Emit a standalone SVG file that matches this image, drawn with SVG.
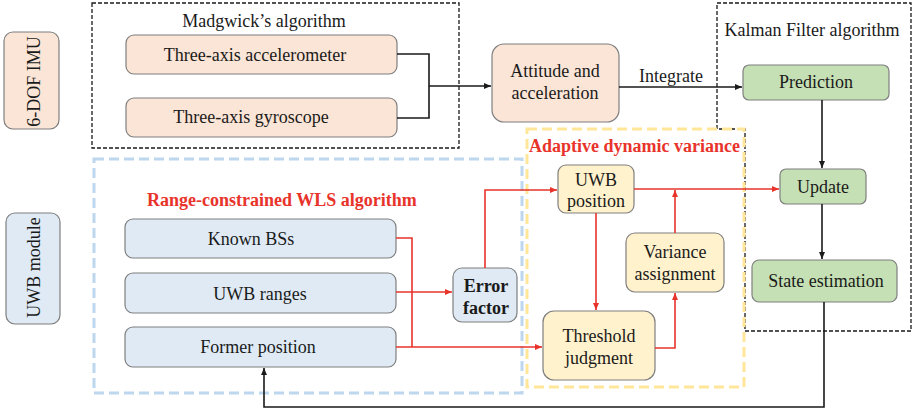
<svg xmlns="http://www.w3.org/2000/svg" width="912" height="413" viewBox="0 0 912 413" font-family="'Liberation Serif', 'Times New Roman', 'DejaVu Serif', serif">
<defs>
<style>
text{font-family:'Liberation Serif','Times New Roman','DejaVu Serif',serif;font-size:18px;fill:#1a1a1a;text-anchor:middle}
.b{font-weight:bold}
.red{fill:#e8332b;font-weight:bold;text-anchor:start}
.box{stroke:#7f7f7f;stroke-width:1.2}
.peach{fill:#fbe5d6}
.blue{fill:#dfeaf5}
.green{fill:#c5e0b4}
.yel{fill:#fff2cc}
.k{fill:none;stroke:#1a1a1a;stroke-width:1.6}
.r{fill:none;stroke:#e8332b;stroke-width:1.6}
.kd{fill:none;stroke:#1a1a1a;stroke-width:1.3;stroke-dasharray:4 2}
</style>
<marker id="ak" markerUnits="userSpaceOnUse" markerWidth="8" markerHeight="8" refX="7" refY="4" orient="auto"><path d="M0,1 L7,4 L0,7 Z" fill="#1a1a1a"/></marker>
<marker id="ar" markerUnits="userSpaceOnUse" markerWidth="8" markerHeight="8" refX="7" refY="4" orient="auto"><path d="M0,1 L7,4 L0,7 Z" fill="#e8332b"/></marker>
</defs>
<rect width="912" height="413" fill="#fff"/>

<g id="groups">
<rect x="92" y="3" width="367" height="145" class="kd"/>
<path d="M745,331 H911 V3 H717 V129 H745 Z" class="kd"/>
<rect x="94" y="159" width="428" height="234" fill="none" stroke="#bdd7ee" stroke-width="3" stroke-dasharray="10 5"/>
<rect x="527" y="129" width="217" height="258" fill="none" stroke="#ffe699" stroke-width="3" stroke-dasharray="10 5"/>
<text x="264" y="27">Madgwick’s algorithm</text>
<text x="812" y="36">Kalman Filter algorithm</text>
<text class="red" x="529" y="152">Adaptive dynamic variance</text>
<text class="red" x="147" y="206">Range-constrained WLS algorithm</text>
</g>

<g id="imu">
<rect x="4" y="32" width="55" height="97" rx="9" class="box peach"/>
<text transform="translate(39.5,81.5) rotate(-90)">6-DOF IMU</text>
</g>
<g id="uwbmodule">
<rect x="6" y="213" width="54" height="111" rx="9" class="box blue"/>
<text transform="translate(40,267.5) rotate(-90)">UWB module</text>
</g>

<g id="accelerometer">
<rect x="126" y="35" width="271" height="39" rx="8" class="box peach"/>
<text x="255" y="61">Three-axis accelerometer</text>
</g>
<g id="gyroscope">
<rect x="126" y="98" width="271" height="39" rx="8" class="box peach"/>
<text x="251" y="123">Three-axis gyroscope</text>
</g>
<g id="attitude">
<rect x="492" y="44" width="127" height="78" rx="12" class="box peach"/>
<text x="555" y="77">Attitude and</text>
<text x="555" y="99">acceleration</text>
</g>

<g id="prediction">
<rect x="743" y="65" width="146" height="35" rx="6" class="box green"/>
<text x="816" y="88">Prediction</text>
</g>
<g id="update">
<rect x="780" y="169" width="86" height="35" rx="6" class="box green"/>
<text x="823" y="193">Update</text>
</g>
<g id="state">
<rect x="752" y="260" width="145" height="42" rx="7" class="box green"/>
<text x="826" y="287">State estimation</text>
</g>

<g id="knownbs">
<rect x="125" y="219" width="271" height="39" rx="8" class="box blue"/>
<text x="251" y="245">Known BSs</text>
</g>
<g id="ranges">
<rect x="125" y="273" width="271" height="40" rx="8" class="box blue"/>
<text x="260" y="300">UWB ranges</text>
</g>
<g id="former">
<rect x="125" y="327" width="271" height="40" rx="8" class="box blue"/>
<text x="258" y="353">Former position</text>
</g>
<g id="error">
<rect x="453" y="268" width="64" height="54" rx="9" class="box blue"/>
<text class="b" x="486" y="292">Error</text>
<text class="b" x="486" y="314">factor</text>
</g>

<g id="uwbpos">
<rect x="558" y="165" width="76" height="48" rx="8" class="box yel"/>
<text x="596" y="186">UWB</text>
<text x="596" y="207">position</text>
</g>
<g id="variance">
<rect x="626" y="233" width="98" height="59" rx="9" class="box yel"/>
<text x="675" y="258">Variance</text>
<text x="675" y="280">assignment</text>
</g>
<g id="threshold">
<rect x="543" y="311" width="112" height="69" rx="11" class="box yel"/>
<text x="599" y="342">Threshold</text>
<text x="599" y="364">judgment</text>
</g>

<g id="connectors">
<path d="M397,54 H429 V118 H397" class="k"/>
<path d="M429,86 H491" class="k" marker-end="url(#ak)"/>
<path d="M619,87 H742" class="k" marker-end="url(#ak)"/>
<text x="671" y="82">Integrate</text>
<path d="M822,100 V168" class="k" marker-end="url(#ak)"/>
<path d="M822,204 V259" class="k" marker-end="url(#ak)"/>
<path d="M824,302 V407 H264 V368" class="k" marker-end="url(#ak)"/>

<path d="M396,238 H412 V347" class="r"/>
<path d="M396,347 H542" class="r" marker-end="url(#ar)"/>
<path d="M396,292 H452" class="r" marker-end="url(#ar)"/>
<path d="M485,268 V190 H557" class="r" marker-end="url(#ar)"/>
<path d="M634,189 H779" class="r" marker-end="url(#ar)"/>
<path d="M675,233 V190" class="r" marker-end="url(#ar)"/>
<path d="M596,213 V310" class="r" marker-end="url(#ar)"/>
<path d="M655,348 H675 V293" class="r" marker-end="url(#ar)"/>
</g>
</svg>
